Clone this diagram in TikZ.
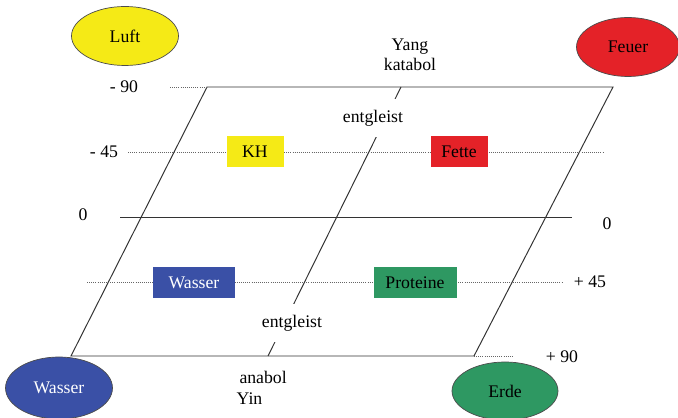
\documentclass[tikz,border=0pt]{standalone}
\usepackage{fontspec}
\setmainfont{Liberation Serif}
\usetikzlibrary{shapes.geometric}

\definecolor{elemyellow}{RGB}{245,234,22}
\definecolor{elemred}{RGB}{228,34,40}
\definecolor{elemblue}{RGB}{58,80,166}
\definecolor{elemgreen}{RGB}{46,152,98}

\begin{document}
\begin{tikzpicture}[
    x=0.025cm, y=-0.025cm,
    font=\fontsize{12.6}{14.5}\selectfont,
    elemell/.style={ellipse, draw=black!70, line width=0.5pt, minimum width=107*0.025cm, minimum height=59*0.025cm, inner sep=0pt},
    foodbox/.style={rectangle, minimum height=31*0.025cm, inner sep=0pt},
    gridline/.style={densely dotted, draw=black!60, line width=0.5pt},
    frame/.style={draw=black!80, line width=0.7pt},
    lbl/.style={inner sep=1pt},
    gaplbl/.style={fill=white, inner xsep=1pt, inner ysep=8pt}
]
    \useasboundingbox (0,0) rectangle (678,418);

    % Parallelogramm
    \coordinate (tl) at (207,87);
    \coordinate (tr) at (613,87);
    \coordinate (br) at (474,356);
    \coordinate (bl) at (71,356);
    \draw[frame] (tl) -- (tr) -- (br) -- (bl) -- cycle;

    % Skalenlinien
    \draw[gridline] (170,87) -- (tl);
    \draw[gridline] (128,152) -- (603,152);
    \draw[frame] (120,217) -- (572,217);
    \draw[gridline] (87,282) -- (562,282);
    \draw[gridline] (br) -- (512,356);

    % Mittellinie
    \coordinate (mtop) at (401,87);
    \coordinate (mbot) at (268,356);
    \draw[frame] (mtop) -- (mbot);
    \node[gaplbl] (ent1) at (373,118) {entgleist};
    \node[gaplbl] (ent2) at (292,323) {entgleist};

    % Skalenbeschriftung
    \node[lbl] (m90) at (124,87) {- 90};
    \node[lbl] (m45) at (104,152) {- 45};
    \node[lbl] (nulll) at (83,215) {0};
    \node[lbl] (nullr) at (607,224) {0};
    \node[lbl] (p45) at (590,282) {+ 45};
    \node[lbl] (p90) at (562,357) {+ 90};

    % Yang / Yin
    \node[lbl, align=center] (yang) at (410,55) {Yang\\katabol};
    \node[lbl, align=left, anchor=west] (yin) at (235,388) {\hspace*{2pt}anabol\\Yin};

    % Naehrstoffe
    \node[foodbox, fill=elemyellow, minimum width=57*0.025cm] (kh) at (255,152) {KH};
    \node[foodbox, fill=elemred, minimum width=57*0.025cm] (fette) at (459,152) {Fette};
    \node[foodbox, fill=elemblue, text=white, minimum width=82*0.025cm] (wasserbox) at (194,283) {Wasser};
    \node[foodbox, fill=elemgreen, minimum width=83*0.025cm] (proteine) at (415,283) {Proteine};

    % Elemente
    \node[elemell, fill=elemyellow] (luft) at (125,36) {Luft};
    \node[elemell, fill=elemred, minimum width=103*0.025cm] (feuer) at (628,47) {Feuer};
    \node[elemell, fill=elemblue, text=white, minimum height=62*0.025cm] (wasser) at (59,388) {Wasser};
    \node[elemell, fill=elemgreen, minimum width=106*0.025cm, minimum height=58*0.025cm] (erde) at (505,391) {Erde};

\end{tikzpicture}
\end{document}
